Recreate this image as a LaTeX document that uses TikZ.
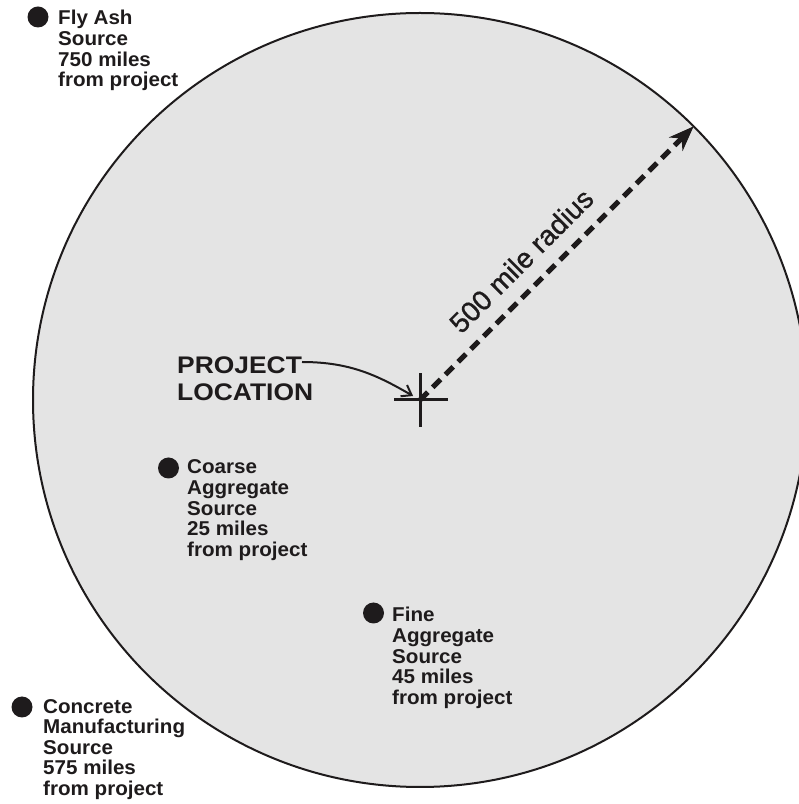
\documentclass[tikz,border=0pt]{standalone}
\usepackage{fontspec}
\setmainfont{Liberation Sans}
\newfontfamily\lblfont[FakeStretch=1.03]{Liberation Sans}
\newfontfamily\projfont[FakeStretch=1.1]{Liberation Sans}
\newfontfamily\radfont[FakeBold=1]{Liberation Sans}
\usetikzlibrary{arrows.meta}
\definecolor{disk}{RGB}{228,228,228}
\definecolor{ink}{RGB}{30,27,28}
\begin{document}
\begin{tikzpicture}[x=1pt,y=1pt,
  every node/.style={inner sep=0pt, text=ink},
  lbl/.style={font=\lblfont\bfseries\fontsize{20}{20.6}\selectfont, align=left, anchor=base west},
  dot/.style={circle, fill=ink, minimum size=21pt, inner sep=0pt},
  rimline/.style={draw=ink, line width=2pt}]
\useasboundingbox (0,0) rectangle (799,804);
\clip (0,0) rectangle (799,804);
% the 500 mile disk
\fill[disk] (420,404) circle (387);
\draw[rimline] (420,404) circle (387);
% project location cross
\coordinate (pl) at (420,404);
\draw[ink, line width=3pt] (394,404) -- (448,404) (420,377) -- (420,431);
% radius arrow
\coordinate (rim) at (693.6,677.6);
\draw[ink, line width=5pt, dash pattern=on 11pt off 7pt,
  -{Stealth[length=25pt,width=19pt,inset=8pt]}] (pl) -- (rim);
\node[rotate=45, anchor=base west, font=\radfont\fontsize{28}{30}\selectfont] (rad) at (461,469) {500 mile radius};
% project location label (anchor = baseline of last line)
\node[font=\projfont\bfseries\fontsize{24}{27}\selectfont, align=left, anchor=base west] (proj) at (177,403) {PROJECT\\LOCATION};
\coordinate (cs) at (302,442);
\draw[ink, line width=2pt, shorten >=8pt, -{Straight Barb[length=9pt,width=13pt]}] (cs) to[out=0,in=150] (pl);
% sources (anchor = baseline of last line)
\node[dot] (fad) at (38,787) {};
\node[lbl] (fa) at (58,717.2) {Fly Ash\\Source\\750 miles\\from project};
\node[dot] (cad) at (168.5,336) {};
\node[lbl] (ca) at (187,247.6) {Coarse\\Aggregate\\Source\\25 miles\\from project};
\node[dot] (fid) at (373.5,191) {};
\node[lbl] (fi) at (392,99.6) {Fine\\Aggregate\\Source\\45 miles\\from project};
\node[dot] (cmd) at (22,97) {};
\node[lbl] (cm) at (43,8.6) {Concrete\\Manufacturing\\Source\\575 miles\\from project};
\end{tikzpicture}
\end{document}
